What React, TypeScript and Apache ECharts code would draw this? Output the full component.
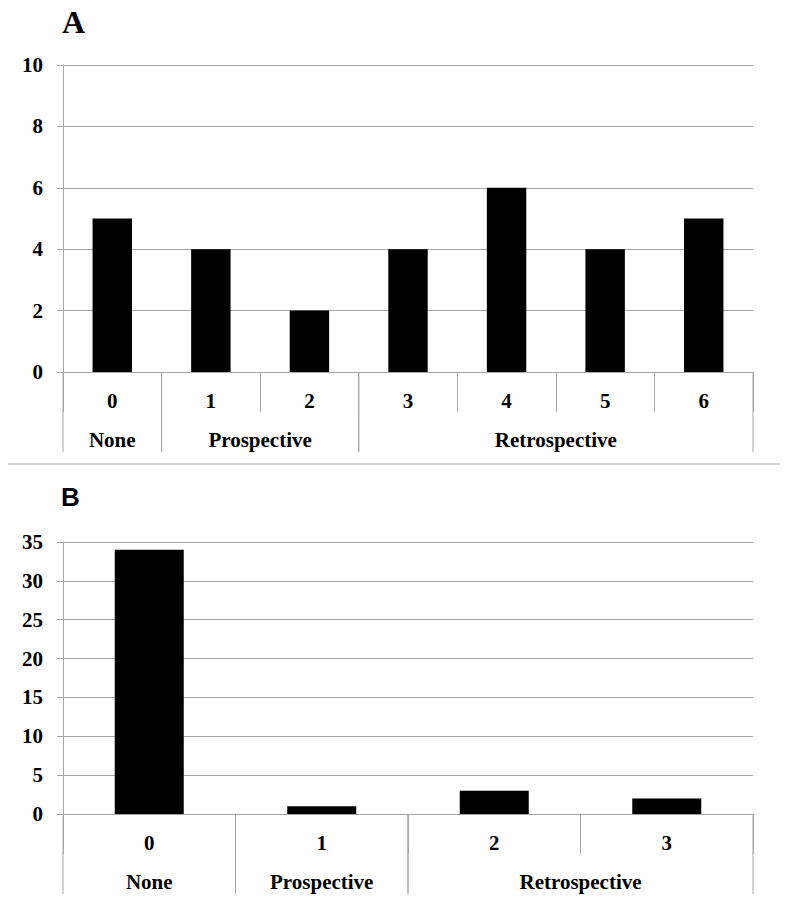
import React, { useEffect, useRef } from "react";
import * as echarts from "echarts";

// Panel A
const catsA = ["0", "1", "2", "3", "4", "5", "6"];
const valsA = [5, 4, 2, 4, 6, 4, 5];
const groupStartA = [0, 1, 3];
const groupEndA = [0, 2, 6];
const groupNamesA = ["None", "Prospective", "Retrospective"];

// Panel B
const catsB = ["0", "1", "2", "3"];
const valsB = [34, 1, 3, 2];
const groupStartB = [0, 1, 2];
const groupEndB = [0, 1, 3];
const groupNamesB = ["None", "Prospective", "Retrospective"];

const GRAY = "#a6a6a6";
const SERIF = "'Liberation Serif', 'Times New Roman', serif";

function groupSeries(idx: number, starts: number[], ends: number[], names: string[]) {
  return {
    type: "custom",
    xAxisIndex: idx,
    yAxisIndex: idx,
    clip: false,
    silent: true,
    z: 1,
    data: starts.map((s, i) => [s, 0, ends[i]]),
    renderItem: (params: any, api: any) => {
      const bw = api.size([1, 0])[0];
      const p0 = api.coord([api.value(0), 0]);
      const p1 = api.coord([api.value(2), 0]);
      const xl = p0[0] - bw / 2;
      const xr = p1[0] + bw / 2;
      const y0 = p0[1];
      return {
        type: "group",
        children: [
          { type: "line", shape: { x1: xl, y1: y0, x2: xl, y2: y0 + 80 }, style: { stroke: GRAY, lineWidth: 1 } },
          { type: "line", shape: { x1: xr, y1: y0, x2: xr, y2: y0 + 80 }, style: { stroke: GRAY, lineWidth: 1 } },
          {
            type: "text",
            style: {
              text: names[params.dataIndex],
              x: (xl + xr) / 2,
              y: y0 + 68,
              align: "center",
              verticalAlign: "middle",
              fill: "#000",
              font: `bold 21px ${SERIF}`,
            },
          },
        ],
      };
    },
  };
}

function xAxisCfg(idx: number, cats: string[]) {
  return {
    type: "category",
    gridIndex: idx,
    data: cats,
    axisLine: { show: true, lineStyle: { color: GRAY, width: 1 } },
    axisTick: { show: true, length: 40, interval: 0, lineStyle: { color: GRAY } },
    axisLabel: { margin: 18, color: "#000", fontSize: 21, fontWeight: "bold", fontFamily: SERIF, interval: 0 },
    splitLine: { show: false },
  };
}

function yAxisCfg(idx: number, max: number, interval: number) {
  return {
    type: "value",
    gridIndex: idx,
    min: 0,
    max,
    interval,
    axisLine: { show: true, lineStyle: { color: GRAY, width: 1 } },
    axisTick: { show: true, length: 6, lineStyle: { color: GRAY } },
    axisLabel: { margin: 20, color: "#000", fontSize: 21, fontWeight: "bold", fontFamily: SERIF },
    splitLine: { show: true, lineStyle: { color: GRAY, width: 1 } },
  };
}

export default function App() {
  const ref = useRef<HTMLDivElement>(null);
  useEffect(() => {
    document.body.style.margin = "0";
    if (!ref.current) return;
    const chart = echarts.init(ref.current, null, { renderer: "svg" });
    chart.setOption({
      animation: false,
      backgroundColor: "#fff",
      grid: [
        { left: 63, right: 47, top: 65, height: 307 },
        { left: 63, right: 47, top: 542, height: 272 },
      ],
      xAxis: [xAxisCfg(0, catsA), xAxisCfg(1, catsB)],
      yAxis: [yAxisCfg(0, 10, 2), yAxisCfg(1, 35, 5)],
      graphic: [
        {
          type: "text",
          left: 62,
          top: 6,
          style: { text: "A", fill: "#000", font: `bold 32px ${SERIF}` },
        },
        {
          type: "text",
          left: 61,
          top: 484,
          style: { text: "B", fill: "#000", font: "bold 26px 'Liberation Sans', Arial, sans-serif" },
        },
        {
          type: "line",
          shape: { x1: 8, y1: 464, x2: 780, y2: 464 },
          style: { stroke: GRAY, lineWidth: 1 },
        },
      ],
      series: [
        {
          type: "bar",
          xAxisIndex: 0,
          yAxisIndex: 0,
          data: valsA,
          barWidth: "40%",
          itemStyle: { color: "#000" },
          z: 3,
        },
        {
          type: "bar",
          xAxisIndex: 1,
          yAxisIndex: 1,
          data: valsB,
          barWidth: "40%",
          itemStyle: { color: "#000" },
          z: 3,
        },
        groupSeries(0, groupStartA, groupEndA, groupNamesA),
        groupSeries(1, groupStartB, groupEndB, groupNamesB),
      ],
    });
    return () => chart.dispose();
  }, []);
  return <div ref={ref} style={{ width: 800, height: 908 }} />;
}
